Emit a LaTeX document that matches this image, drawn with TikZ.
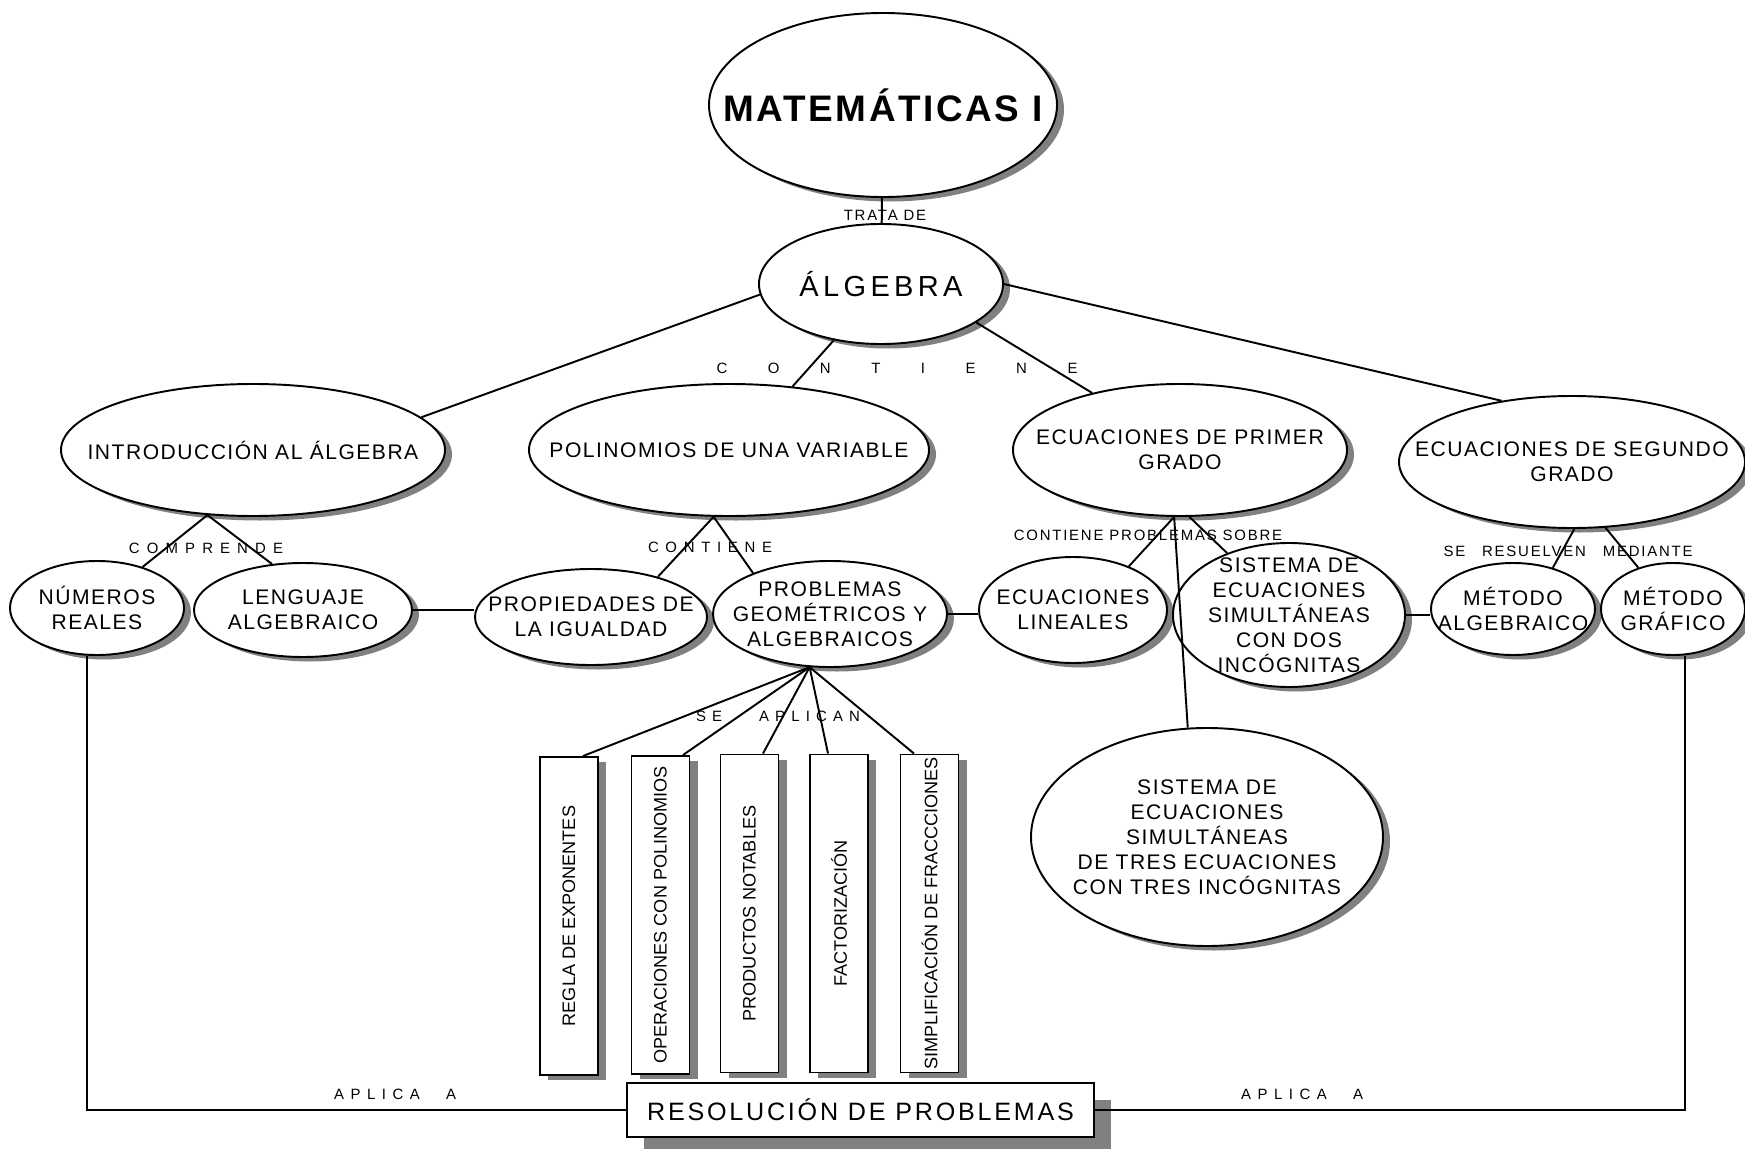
\documentclass[tikz,border=0pt]{standalone}
\usepackage{graphicx}
\usepackage{fontspec}
\setmainfont{Liberation Sans}
\newfontfamily\mapfont{Liberation Sans}[LetterSpace=7]
\newfontfamily\lblfont{Liberation Sans}[LetterSpace=12]
\usetikzlibrary{shapes.geometric, shadows}

\begin{document}
\begin{tikzpicture}[x = 0.2mm, y = -0.2mm, line width = 1.1pt,
    bubble/.style = {ellipse, draw, fill=white, inner sep=0pt,
      drop shadow={shadow xshift=0.14cm, shadow yshift=-0.09cm, fill=black!50, opacity=1}},
    bubtext/.style = {align=center, inner sep=0pt, font={\mapfont\fontsize{12}{14.2}\selectfont}},
    slab/.style = {draw, fill=white, inner sep=0pt, minimum width=1.16cm, minimum height=6.36cm,
      font={\fontsize{10.3}{12}\selectfont},
      drop shadow={shadow xshift=0.16cm, shadow yshift=-0.1cm, fill=black!50, opacity=1}},
    link/.style = {inner sep=0pt, font={\lblfont\fontsize{8.5}{10}\selectfont}}]
  \useasboundingbox (0,0) rectangle (1745,1149);

  \node [bubble, minimum width=6.96cm, minimum height=3.68cm] (mat) at (883,105) {};
  \node [bubtext, font={\mapfont\bfseries\fontsize{21}{24}\selectfont}] (matt) at (mat) {MATEMÁTICAS I};
  \node [bubble, minimum width=4.88cm, minimum height=2.40cm] (alg) at (881,284) {};
  \node [bubtext, font={\mapfont\addfontfeature{LetterSpace=15}\fontsize{16.5}{19}\selectfont}] (algt) at (alg) {ÁLGEBRA};

  \node [bubble, minimum width=7.68cm, minimum height=2.64cm] (intro) at (253,450) {};
  \node [bubtext] (introt) at (intro) {INTRODUCCIÓN AL ÁLGEBRA};
  \node [bubble, minimum width=8.00cm, minimum height=2.64cm] (polin) at (729,450) {};
  \node [bubtext] (polint) at (polin) {POLINOMIOS DE UNA VARIABLE};
  \node [bubble, minimum width=6.68cm, minimum height=2.64cm] (ecu1) at (1180,450) {};
  \node [bubtext] (ecu1t) at (ecu1) {ECUACIONES DE PRIMER\\GRADO};
  \node [bubble, minimum width=6.92cm, minimum height=2.64cm] (ecu2) at (1572,462) {};
  \node [bubtext] (ecu2t) at (ecu2) {ECUACIONES DE SEGUNDO\\GRADO};

  \node [bubble, minimum width=3.48cm, minimum height=1.88cm] (reales) at (97,608) {};
  \node [bubtext] (realest) at (reales) {NÚMEROS\\REALES};
  \node [bubble, minimum width=4.36cm, minimum height=1.88cm] (leng) at (303,610) {};
  \node [bubtext] (lengt) at (leng) {LENGUAJE\\ALGEBRAICO};
  \node [bubble, minimum width=4.64cm, minimum height=1.92cm] (prop) at (591,617) {};
  \node [bubtext] (propt) at (prop) {PROPIEDADES DE\\LA IGUALDAD};
  \node [bubble, minimum width=4.68cm, minimum height=2.12cm] (prob) at (830,614) {};
  \node [bubtext] (probt) at (prob) {PROBLEMAS\\GEOMÉTRICOS Y\\ALGEBRAICOS};
  \node [bubble, minimum width=3.76cm, minimum height=2.12cm] (lin) at (1073,610) {};
  \node [bubtext] (lint) at (lin) {ECUACIONES\\LINEALES};
  \node [bubble, minimum width=4.64cm, minimum height=2.88cm] (sis2) at (1289,615) {};
  \node [bubtext] (sis2t) at (sis2) {SISTEMA DE\\ECUACIONES\\SIMULTÁNEAS\\CON DOS\\INCÓGNITAS};
  \node [bubble, minimum width=3.28cm, minimum height=1.84cm] (metalg) at (1513,609) {};
  \node [bubtext] (metalgt) at (metalg) {MÉTODO\\ALGEBRAICO};
  \node [bubble, minimum width=2.88cm, minimum height=1.84cm] (metgraf) at (1673,609) {};
  \node [bubtext] (metgraft) at (metgraf) {MÉTODO\\GRÁFICO};
  \node [bubble, minimum width=7.04cm, minimum height=4.36cm] (sis3) at (1207,837) {};
  \node [bubtext] (sis3t) at (sis3) {SISTEMA DE\\ECUACIONES\\SIMULTÁNEAS\\DE TRES ECUACIONES\\CON TRES INCÓGNITAS};

  \node [slab] (regla) at (569,916) {\rotatebox{90}{REGLA DE EXPONENTES}};
  \node [slab] (operac) at (660.5,915) {\rotatebox{90}{OPERACIONES CON POLINOMIOS}};
  \node [slab] (produc) at (749.5,913.5) {\rotatebox{90}{PRODUCTOS NOTABLES}};
  \node [slab] (factor) at (839,913.5) {\rotatebox{90}{FACTORIZACIÓN}};
  \node [slab] (simpl) at (929.5,913.5) {\rotatebox{90}{SIMPLIFICACIÓN DE FRACCCIONES}};
  \node [draw, fill=white, inner sep=0pt, minimum width=9.34cm, minimum height=1.08cm,
    font={\mapfont\addfontfeature{LetterSpace=11}\fontsize{14.3}{17}\selectfont},
    drop shadow={shadow xshift=0.34cm, shadow yshift=-0.34cm, fill=black!50, opacity=1}]
    (resol) at (860.5,1110) {RESOLUCIÓN DE PROBLEMAS};

  \node [link] (trata) at (885,215) {TRATA DE};
  \node [link] (contiene) at (897,368) {\makebox[7.22cm][s]{C O N T I E N E}};
  \node [link] (comprende) at (206,548) {\makebox[3.08cm][s]{C O M P R E N D E}};
  \node [link] (contiene2) at (710,547) {\makebox[2.48cm][s]{C O N T I E N E}};
  \node [link] (sobre) at (1148,535) {CONTIENE PROBLEMAS SOBRE};
  \node [link] (resuelven) at (1568,551) {\makebox[4.98cm][s]{SE \ \ RESUELVEN \ \ MEDIANTE}};
  \node [link] (aplican) at (778,716) {\makebox[3.28cm][s]{S E \ \ \ \ \ A P L I C A N}};
  \node [link] (aplicaizq) at (395,1094) {\makebox[2.44cm][s]{A P L I C A \ \ \ A}};
  \node [link] (aplicader) at (1302,1094) {\makebox[2.44cm][s]{A P L I C A \ \ \ A}};

  \coordinate (fan) at (prob.249);
  \draw (mat) -- (alg);
  \draw (alg.185) -- (intro.11); \draw (alg.230) -- (polin.45);
  \draw (alg.-22) -- (ecu1.147); \draw (alg.east) -- (ecu2.139);
  \draw (intro.235) -- (reales.42); \draw (intro.235) -- (leng.124);
  \draw (polin.257) -- (prop.31); \draw (polin.257) -- (prob.152);
  \draw (ecu1.265) -- (lin.38); \draw (ecu1.265) -- (sis3.100); \draw (ecu1.278) -- (sis2.135);
  \draw (ecu2.272) -- (metalg.46); \draw (ecu2.297) -- (metgraf.130);
  \draw (leng.east) -- (leng.east -| prop.west);
  \draw (prob.east) -- (prob.east -| lin.west);
  \draw (sis2.east) -- (sis2.east -| metalg.west);
  \draw (fan) -- ([xshift=0.28cm]regla.north); \draw (fan) -- ([xshift=0.45cm]operac.north);
  \draw (fan) -- ([xshift=0.27cm]produc.north); \draw (fan) -- ([xshift=-0.22cm]factor.north);
  \draw (fan) -- ([xshift=-0.31cm]simpl.north);
  \draw ([xshift=-0.2cm]reales.south) |- (resol.west);
  \draw ([xshift=0.24cm]metgraf.south) |- (resol.east);
\end{tikzpicture}
\end{document}
